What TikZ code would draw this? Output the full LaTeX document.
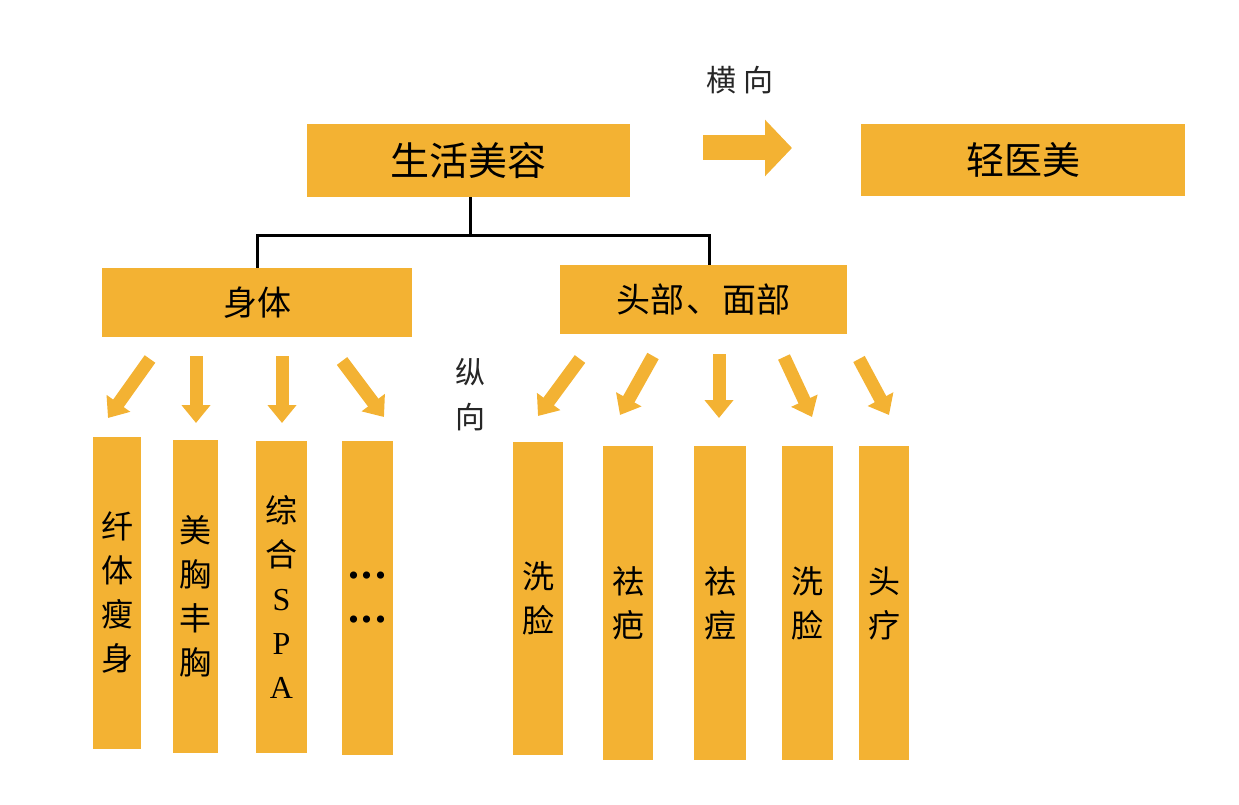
\documentclass[tikz,border=0pt]{standalone}
\usepackage{fontspec}
\setmainfont{Noto Sans CJK SC}
\newfontfamily\latinserif{Liberation Serif}
\usetikzlibrary{arrows.meta}
\definecolor{gold}{RGB}{243,178,51}
\tikzset{
  box/.style={fill=gold, draw=none, inner sep=0pt, align=center},
  col/.style={box, font=\fontsize{32}{44}\selectfont},
  conn/.style={draw=black, line width=3pt, line join=miter},
  barrow/.style={draw=gold, line width=13pt, -{Triangle[width=28pt,length=18pt]}},
  lbl/.style={inner sep=0pt, font=\fontsize{30}{45}\selectfont, text=black!85, align=center}
}
\begin{document}
\begin{tikzpicture}[x=1pt,y=-1pt]
\useasboundingbox (0,0) rectangle (1239,805);
% top boxes
\node[box, minimum width=323pt, minimum height=73pt, font=\fontsize{39}{40}\selectfont] (top) at (468.5,160.5) {生活美容};
\node[box, minimum width=324pt, minimum height=72pt, font=\fontsize{38}{40}\selectfont] (light) at (1023,160) {轻医美};
\node[lbl] (hx) at (740,80) {横\hspace{8pt}向};
% big right arrow
\coordinate (bs) at (703,148);
\coordinate (be) at (792,148);
\draw[draw=gold, line width=25pt, -{Triangle[width=55pt,length=27pt]}] (bs) -- (be);
% second level
\node[box, minimum width=310pt, minimum height=69pt, font=\fontsize{34}{40}\selectfont] (body) at (257,302.5) {身体};
\node[box, minimum width=287pt, minimum height=69pt, font=\fontsize{34}{40}\selectfont] (hf) at (703.5,299.5) {头部\hspace{2pt}、\hspace{2pt}面部};
\coordinate (j) at (470,235);
\draw[conn] (top.south -| j) -- (j);
\draw[conn] (body.north) |- (j) -| ([xshift=6pt]hf.north);
\node[lbl] (zx) at (470,395) {纵\\向};
% left columns
\node[col, minimum width=48pt, minimum height=312pt] (c1) at (117,593) {纤\\体\\瘦\\身};
\node[col, minimum width=45pt, minimum height=313pt] (c2) at (195.5,596.5) {美\\胸\\丰\\胸};
\node[col, minimum width=51pt, minimum height=312pt] (c3) at (281.5,597) {综\\合\\{\latinserif S}\\{\latinserif P}\\{\latinserif A}};
\node[col, minimum width=51pt, minimum height=314pt] (c4) at (367.5,598) {{\latinserif\fontsize{44}{44}\selectfont\textbf{.\hspace{3pt}.\hspace{3pt}.}}\\{\latinserif\fontsize{44}{44}\selectfont\textbf{.\hspace{3pt}.\hspace{3pt}.}}};
% right columns
\node[col, minimum width=50pt, minimum height=313pt] (d1) at (538,598.5) {洗\\脸};
\node[col, minimum width=50pt, minimum height=314pt] (d2) at (628,603) {祛\\疤};
\node[col, minimum width=52pt, minimum height=314pt] (d3) at (720,603) {祛\\痘};
\node[col, minimum width=51pt, minimum height=314pt] (d4) at (807.5,603) {洗\\脸};
\node[col, minimum width=50pt, minimum height=314pt] (d5) at (884,603) {头\\疗};
% small arrows
\coordinate (a1s) at (150,359); \coordinate (a1e) at (108,418);
\coordinate (a2s) at (196,356); \coordinate (a2e) at (196,423);
\coordinate (a3s) at (282,356); \coordinate (a3e) at (282,423);
\coordinate (a4s) at (342,361); \coordinate (a4e) at (384,417);
\coordinate (b1s) at (580,359); \coordinate (b1e) at (538,416);
\coordinate (b2s) at (653,356); \coordinate (b2e) at (620,415);
\coordinate (b3s) at (719,354); \coordinate (b3e) at (719,418);
\coordinate (b4s) at (784,357); \coordinate (b4e) at (812,417);
\coordinate (b5s) at (859,359); \coordinate (b5e) at (889,415);
\foreach \s/\e in {a1s/a1e,a2s/a2e,a3s/a3e,a4s/a4e,b1s/b1e,b2s/b2e,b3s/b3e,b4s/b4e,b5s/b5e}
  \draw[barrow] (\s) -- (\e);
\end{tikzpicture}
\end{document}
